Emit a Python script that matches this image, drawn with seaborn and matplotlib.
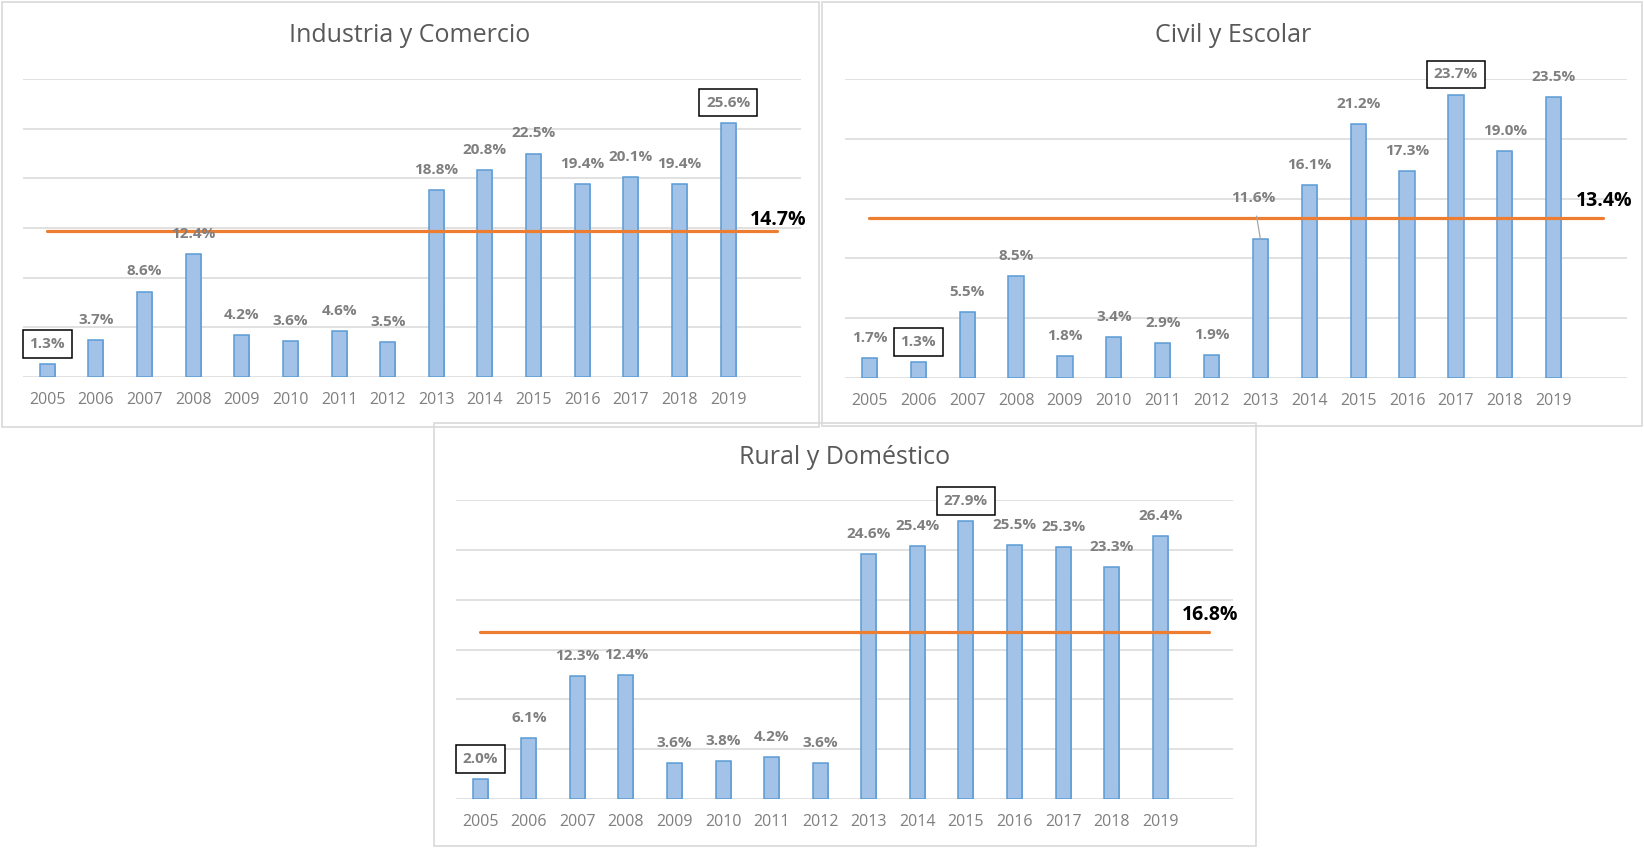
import numpy as np
import pandas as pd
import matplotlib
matplotlib.use("Agg")
import matplotlib.pyplot as plt
from matplotlib.colors import LinearSegmentedColormap
from matplotlib.patches import Rectangle
import seaborn as sns

# data
years = [str(y) for y in range(2005, 2020)]
titles = ["Industria y Comercio", "Civil y Escolar", "Rural y Doméstico"]
industria = [1.3, 3.7, 8.6, 12.4, 4.2, 3.6, 4.6, 3.5, 18.8, 20.8, 22.5, 19.4, 20.1, 19.4, 25.6]
civil = [1.7, 1.3, 5.5, 8.5, 1.8, 3.4, 2.9, 1.9, 11.6, 16.1, 21.2, 17.3, 23.7, 19.0, 23.5]
rural = [2.0, 6.1, 12.3, 12.4, 3.6, 3.8, 4.2, 3.6, 24.6, 25.4, 27.9, 25.5, 25.3, 23.3, 26.4]
means = [14.7, 13.4, 16.8]
y_max = [30, 25, 30]

series = [industria, civil, rural]

sns.set_theme(style="white")
plt.rcParams['font.family'] = ['Open Sans', 'DejaVu Sans']

fig = plt.figure(figsize=(16.44, 8.48), dpi=100)

# layout (pixels, converted to figure fractions below)
W, H = 1644, 848
ax_boxes = [(23, 79, 778, 298), (845, 79, 782, 299), (456, 500, 777, 299)]
frames = [(2, 2, 817, 425), (822, 2, 820, 424), (434, 423, 822, 423)]
title_pos = [(410, 35), (1233, 35), (845, 458)]
mean_offset = [8, 12, 12]

bar_cmap = LinearSegmentedColormap.from_list("bar", ["#8db3e2", "#b5ceec"])
grad = np.linspace(0, 1, 64).reshape(-1, 1)
gray = "#7f7f7f"

for i, (name, vals) in enumerate(zip(titles, series)):
    l, t, w, h = ax_boxes[i]
    ax = fig.add_axes([l / W, (H - t - h) / H, w / W, h / H])

    fl, ft, fw, fh = frames[i]
    fig.patches.append(Rectangle((fl / W, (H - ft - fh) / H), fw / W, fh / H,
                                 transform=fig.transFigure, fill=False,
                                 edgecolor="#d9d9d9", linewidth=1.2, zorder=0))
    tx, ty = title_pos[i]
    fig.text(tx / W, 1 - ty / H, name, ha="center", va="center",
             fontsize=18, color="#595959")

    df = pd.DataFrame({"year": years, "value": vals})
    sns.barplot(data=df, x="year", y="value", ax=ax, width=0.31,
                color="#a3c2e8", saturation=1, edgecolor="#5b9bd5",
                linewidth=1.1, zorder=3)

    # gradient fill inside each bar
    for p in ax.patches:
        x0, y0 = p.get_x(), p.get_y()
        im = ax.imshow(grad[::-1], extent=[x0, x0 + p.get_width(), y0, y0 + p.get_height()],
                       aspect="auto", cmap=bar_cmap, origin="upper", zorder=2.5)
        im.set_clip_path(p)

    # average line, running one slot past the last year
    m = means[i]
    ax.plot([0, len(years)], [m, m], color="#ed7d31", linewidth=2.3, zorder=4)
    ax.annotate(f"{m:.1f}%", xy=(len(years), m), xytext=(1, mean_offset[i]),
                textcoords="offset points", ha="center", va="center",
                fontsize=14, fontweight="bold", color="black", zorder=6)

    # data labels; min and max get a frame
    lo, hi = int(np.argmin(vals)), int(np.argmax(vals))
    for j, v in enumerate(vals):
        kw = dict(ha="center", va="center", fontsize=11, fontweight="bold",
                  color=gray, textcoords="offset points", zorder=6)
        if j in (lo, hi):
            kw["bbox"] = dict(boxstyle="square,pad=0.45", fc="white", ec="black", lw=1.1)
        if name == "Civil y Escolar" and years[j] == "2013":
            ax.annotate(f"{v:.1f}%", xy=(j, v), xytext=(-5, 30),
                        arrowprops=dict(arrowstyle="-", color="#a6a6a6", lw=0.9,
                                        shrinkA=6, shrinkB=0), **kw)
        else:
            ax.annotate(f"{v:.1f}%", xy=(j, v), xytext=(0, 14.5), **kw)

    ax.set_xlim(-0.5, len(years) + 0.5)
    ax.set_ylim(0, y_max[i])
    ax.set_yticks(np.arange(0, y_max[i] + 1, 5))
    ax.set_yticklabels([])
    ax.yaxis.grid(True, color="#d9d9d9", linewidth=1.1, zorder=0)
    ax.set_axisbelow(True)
    ax.tick_params(axis="x", length=0, pad=11, labelsize=11.5, labelcolor=gray)
    ax.tick_params(axis="y", length=0)
    ax.set_xlabel("")
    ax.set_ylabel("")
    for s in ax.spines.values():
        s.set_visible(False)
    ax.patch.set_alpha(0)

fig.savefig("out.png", dpi=100)
